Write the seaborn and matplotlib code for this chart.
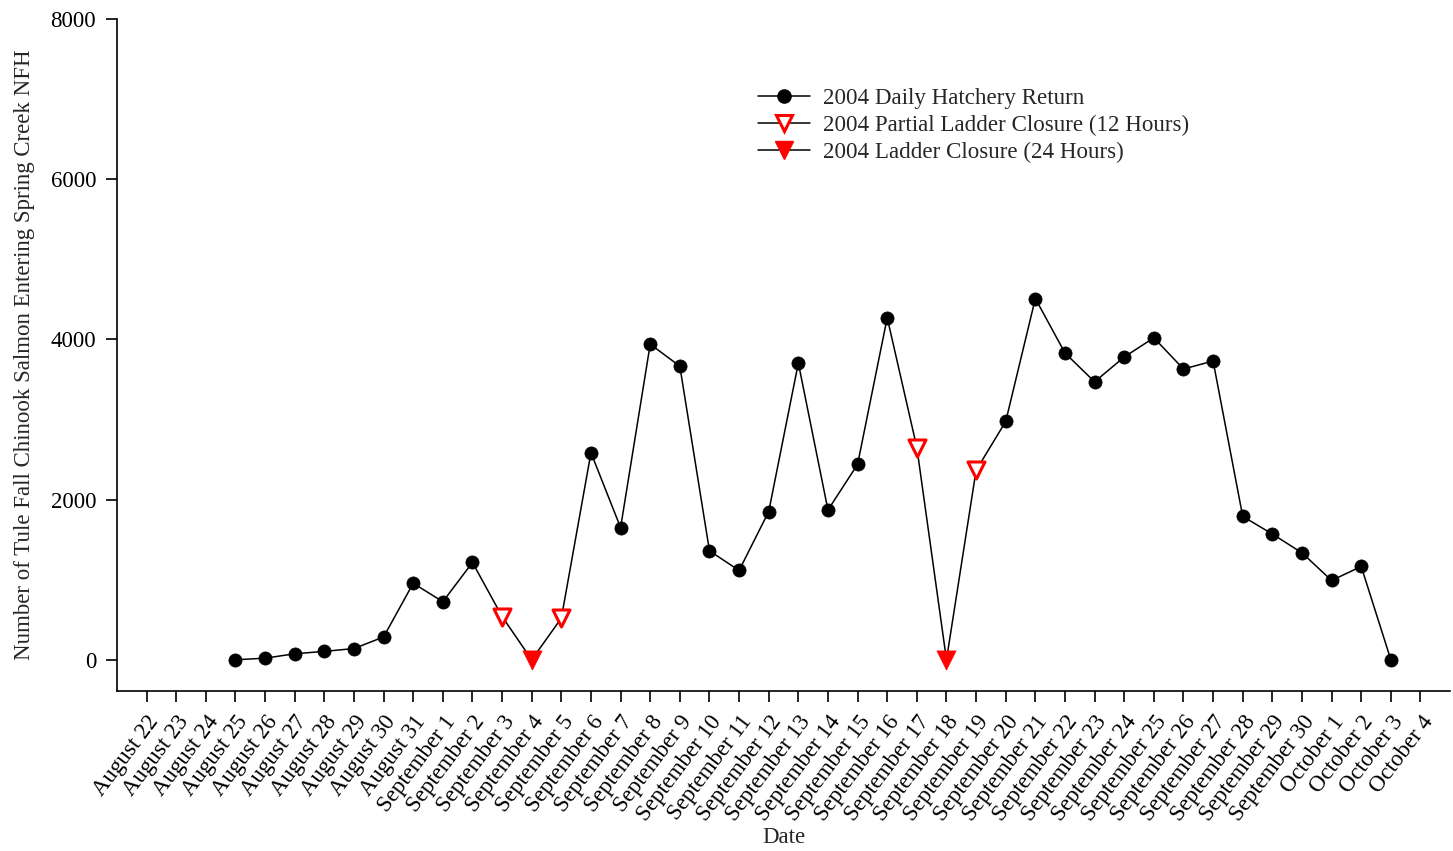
import matplotlib
matplotlib.use("Agg")
import matplotlib.pyplot as plt
from matplotlib.lines import Line2D
import seaborn as sns
import pandas as pd

# Calendar of the 2004 run, one tick per day
dates = (
    [f"August {d}" for d in range(22, 32)]
    + [f"September {d}" for d in range(1, 31)]
    + [f"October {d}" for d in range(1, 5)]
)

# Days with counts (August 25 through October 3)
count_dates = (
    [f"August {d}" for d in range(25, 32)]
    + [f"September {d}" for d in range(1, 31)]
    + [f"October {d}" for d in range(1, 4)]
)
counts = [
    0, 20, 75, 105, 140, 285, 955,            # Aug 25 - Aug 31
    725, 1215, 540, 0, 520, 2585, 1650,        # Sep 1 - Sep 7
    3940, 3665, 1360, 1115, 1850, 3705, 1870,  # Sep 8 - Sep 14
    2440, 4270, 2650, 0, 2365, 2975, 4510,     # Sep 15 - Sep 21
    3830, 3470, 3780, 4020, 3630, 3730, 1790,  # Sep 22 - Sep 28
    1570, 1335, 990, 1165, 0,                  # Sep 29 - Oct 3
]

# Ladder operations
partial_closure = ["September 3", "September 5", "September 17", "September 19"]
full_closure = ["September 4", "September 18"]

label_daily = "2004 Daily Hatchery Return"
label_partial = "2004 Partial Ladder Closure (12 Hours)"
label_full = "2004 Ladder Closure (24 Hours)"

df = pd.DataFrame({"date": count_dates, "count": counts})
df["pos"] = df["date"].map({d: i for i, d in enumerate(dates)})
df["status"] = "open"
df.loc[df["date"].isin(partial_closure), "status"] = "partial"
df.loc[df["date"].isin(full_closure), "status"] = "full"

sns.set_theme(style="ticks")
plt.rcParams["font.family"] = ["Liberation Serif", "DejaVu Serif"]
plt.rcParams["font.size"] = 16

fig = plt.figure(figsize=(14.53, 8.51), dpi=100)
ax = fig.add_axes([0.0805, 0.188, 0.9175, 0.7897])

sns.lineplot(data=df, x="pos", y="count", color="black", linewidth=1.1,
             ax=ax, zorder=2, legend=False)

open_days = df[df["status"] == "open"]
part_days = df[df["status"] == "partial"]
full_days = df[df["status"] == "full"]

sns.scatterplot(data=open_days, x="pos", y="count", marker="o", s=90,
                color="black", edgecolor="black", linewidth=0.5, ax=ax,
                zorder=3, legend=False)
sns.scatterplot(data=part_days, x="pos", y="count", marker="v", s=150,
                facecolor="white", edgecolor="red", linewidth=2.2, ax=ax,
                zorder=3, legend=False)
sns.scatterplot(data=full_days, x="pos", y="count", marker="v", s=190,
                color="red", edgecolor="red", linewidth=0.5, ax=ax,
                zorder=3, legend=False)

ax.set_xlim(-1, len(dates))
ax.set_ylim(-390, 8000)
ax.set_yticks([0, 2000, 4000, 6000, 8000])
ax.set_xticks(range(len(dates)))
ax.set_xticklabels(dates, rotation=53, ha="right", rotation_mode="anchor")
ax.tick_params(axis="both", direction="out", length=8, width=1.2,
               labelsize=16.5, colors="black")
ax.tick_params(axis="y", pad=7)
ax.tick_params(axis="x", pad=7)

for side in ["top", "right"]:
    ax.spines[side].set_visible(False)
for side in ["left", "bottom"]:
    ax.spines[side].set_linewidth(1.2)
    ax.spines[side].set_color("black")

ax.set_xlabel("Date", fontsize=16.5, labelpad=1)
ax.set_ylabel("Number of Tule Fall Chinook Salmon Entering Spring Creek NFH",
              fontsize=16.5, labelpad=11)

handles = [
    Line2D([], [], color="black", linewidth=1.1, marker="o", markersize=9.5,
           markerfacecolor="black", markeredgecolor="black"),
    Line2D([], [], color="black", linewidth=1.1, marker="v", markersize=12,
           markerfacecolor="white", markeredgecolor="red", markeredgewidth=2.2),
    Line2D([], [], color="black", linewidth=1.1, marker="v", markersize=13.5,
           markerfacecolor="red", markeredgecolor="red"),
]
fig.legend(handles, [label_daily, label_partial, label_full],
           loc="upper left", bbox_to_anchor=(0.5153, 0.908), frameon=False,
           fontsize=16.6, handlelength=2.25, handletextpad=0.55,
           labelspacing=0.27, borderaxespad=0)

fig.savefig("out.png", dpi=100, facecolor="white")
